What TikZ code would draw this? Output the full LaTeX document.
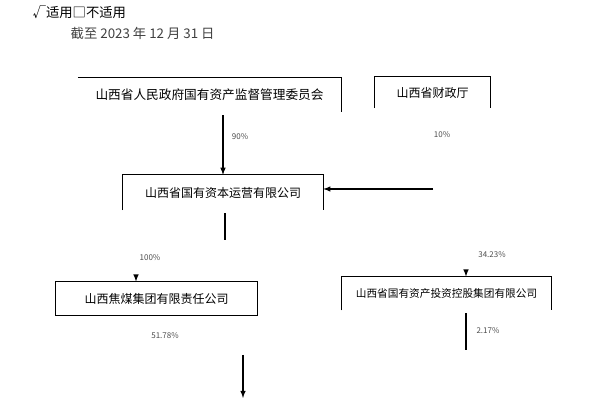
\documentclass[tikz,border=0pt]{standalone}
\usepackage{fontspec}
\setmainfont{Noto Sans CJK SC}
\usetikzlibrary{arrows}

\tikzset{
  gsbox/.style={minimum height=#1, inner sep=0pt, font=\fontsize{9}{10}\selectfont},
  bili/.style={font=\fontsize{6}{7}\selectfont, text=black!70},
}

\begin{document}
\begin{tikzpicture}[x=0.75pt,y=-0.75pt]
                    \useasboundingbox (0,0) rectangle (614,398);

                    \node[anchor=west, font=\fontsize{10}{12}\selectfont] (shiyong) at (28,12) {√适用□不适用};
                    \node[anchor=west, font=\fontsize{10}{12}\selectfont, text=black!75] (riqi) at (66,33) {截至 2023 年 12 月 31 日};

                    % boxes
                    \node[gsbox=25.5pt, minimum width=197pt, font=\fontsize{9.5}{11}\selectfont] (gzw) at (209.5,95) {山西省人民政府国有资产监督管理委员会};
                    \node[gsbox=23pt, minimum width=86pt] (czt) at (432.5,92.5) {山西省财政厅};
                    \node[gsbox=26pt, minimum width=150pt] (gy) at (223,192.5) {山西省国有资本运营有限公司};
                    \node[gsbox=25pt, minimum width=151pt] (jm) at (156.5,298.5) {山西焦煤集团有限责任公司};
                    \node[gsbox=25pt, minimum width=157pt, font=\fontsize{8}{9}\selectfont] (tk) at (446.5,293.5) {山西省国有资产投资控股集团有限公司};

                    \draw[line width = 0.3mm] (gzw.north west) -- (gzw.north east) -- (gzw.south east);
                    \draw[line width = 0.3mm] (czt.south west) -- (czt.north west) -- (czt.north east) -- (czt.south east);
                    \draw[line width = 0.3mm] (gy.south west) -- (gy.north west) -- (gy.north east) -- (gy.south east);
                    \draw[line width = 0.3mm] (jm.south west) rectangle (jm.north east);
                    \draw[line width = 0.3mm] (tk.south west) -- (tk.north west) -- (tk.north east) -- (tk.south east);

                    % connectors
                    \coordinate (czdi) at (433,189);
                    \coordinate (gydi) at (225,240);
                    \coordinate (jmjt) at (136,279);
                    \coordinate (tkjt) at (466,274);
                    \coordinate (tkdi) at (466,350);
                    \coordinate (xiashang) at (243,355);
                    \coordinate (xiaxia) at (243,398);

                    \draw[line width = 0.3mm, -latex] (gzw.south -| gy.north) ++(0,3) -- (gy.north);
                    \draw[line width = 0.3mm, -latex] (czdi) -- (czdi -| gy.east);
                    \draw[line width = 0.3mm] (gy.south -| gydi) ++(0,3) -- (gydi);
                    \draw[line width = 0.3mm, -latex] (jmjt) -- (jmjt |- jm.north);
                    \draw[line width = 0.3mm, -latex] (tkjt) -- (tkjt |- tk.north);
                    \draw[line width = 0.3mm] (tk.south -| tkdi) ++(0,3) -- (tkdi);
                    \draw[line width = 0.3mm, -latex] (xiashang) -- (xiaxia);

                    % labels
                    \node[bili] (l90) at (240,137) {90\%};
                    \node[bili] (l10) at (442,135) {10\%};
                    \node[bili] (l100) at (150,258) {100\%};
                    \node[bili] (l5178) at (165,336) {51.78\%};
                    \node[bili] (l3423) at (492,255) {34.23\%};
                    \node[bili] (l217) at (488,331) {2.17\%};
                \end{tikzpicture}
\end{document}
